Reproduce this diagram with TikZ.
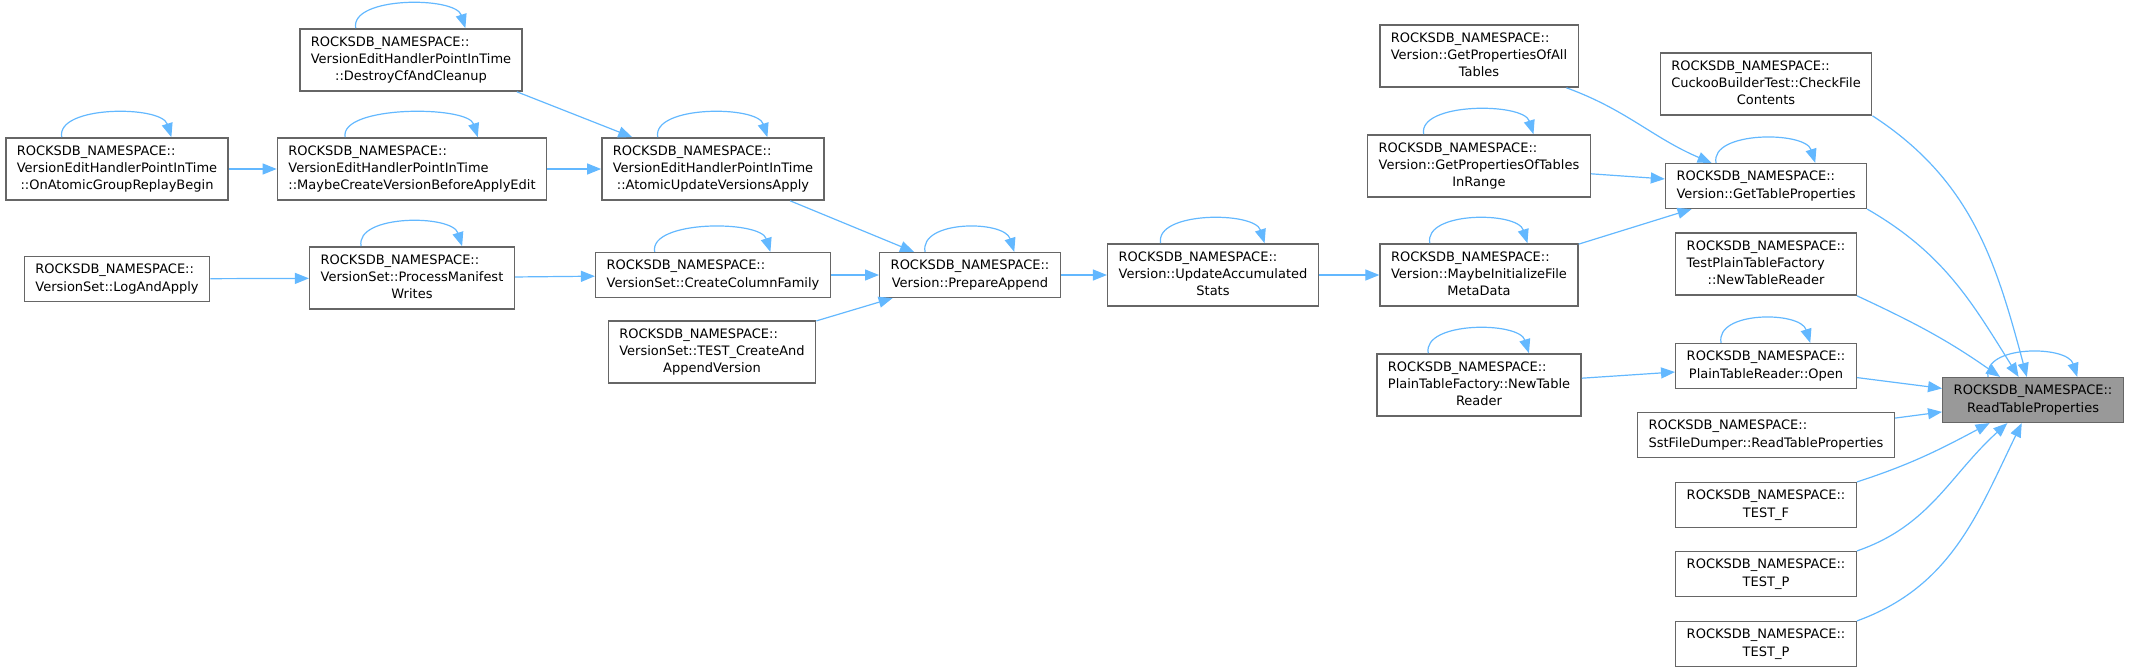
\documentclass[tikz,border=0pt]{standalone}
\usepackage{fontspec}
\setmainfont{DejaVu Sans}
\usetikzlibrary{arrows.meta,calc}
\definecolor{linkblue}{HTML}{63B8FF}
\definecolor{framegray}{HTML}{666666}
\definecolor{focusgray}{HTML}{999999}
\newcommand{\lastc}[1]{\multicolumn{1}{@{}c@{}}{#1}}
\newcommand{\fnlabel}[1]{\begin{tabular}{@{}l@{}}ROCKSDB\_NAMESPACE::\\#1\end{tabular}}

\begin{document}
\begin{tikzpicture}[
  x=0.5pt, y=-0.5pt, font=\fontsize{6.5}{8.7}\selectfont,
  box/.style={draw=framegray,line width=0.7pt,fill=white,inner xsep=5.5pt,inner ysep=2.5pt},
  link/.style={draw=linkblue,line width=0.6pt,-{Triangle[length=7pt,width=5.5pt]}}]
\useasboundingbox (0,0) rectangle (2129,669);
% callers of AtomicUpdateVersionsApply / PrepareAppend
\node[box] (oagr) at (117,169) {\fnlabel{VersionEditHandlerPointInTime\\\lastc{::OnAtomicGroupReplayBegin}}};
\node[box] (mcv) at (412,169) {\fnlabel{VersionEditHandlerPointInTime\\\lastc{::MaybeCreateVersionBeforeApplyEdit}}};
\node[box] (dcc) at (411,60) {\fnlabel{VersionEditHandlerPointInTime\\\lastc{::DestroyCfAndCleanup}}};
\node[box] (auv) at (713,169) {\fnlabel{VersionEditHandlerPointInTime\\\lastc{::AtomicUpdateVersionsApply}}};
\node[box] (laa) at (117,279) {\fnlabel{\lastc{VersionSet::LogAndApply}}};
\node[box] (pmw) at (412,278) {\fnlabel{VersionSet::ProcessManifest\\\lastc{Writes}}};
\node[box] (ccf) at (713,275) {\fnlabel{\lastc{VersionSet::CreateColumnFamily}}};
\node[box] (tca) at (712,352) {\fnlabel{VersionSet::TEST\_CreateAnd\\\lastc{AppendVersion}}};
\node[box] (pa) at (970,275) {\fnlabel{\lastc{Version::PrepareAppend}}};
\node[box] (uas) at (1213,275) {\fnlabel{Version::UpdateAccumulated\\\lastc{Stats}}};
% callers of GetTableProperties / Open
\node[box] (gpa) at (1479,56) {\fnlabel{Version::GetPropertiesOfAll\\\lastc{Tables}}};
\node[box] (gpr) at (1479,166) {\fnlabel{Version::GetPropertiesOfTables\\\lastc{InRange}}};
\node[box] (mif) at (1479,275) {\fnlabel{Version::MaybeInitializeFile\\\lastc{MetaData}}};
\node[box] (ptf) at (1479,385) {\fnlabel{PlainTableFactory::NewTable\\\lastc{Reader}}};
% direct callers
\node[box] (cft) at (1766,84) {\fnlabel{CuckooBuilderTest::CheckFile\\\lastc{Contents}}};
\node[box] (gtp) at (1766,186) {\fnlabel{\lastc{Version::GetTableProperties}}};
\node[box] (tpf) at (1766,264) {\fnlabel{TestPlainTableFactory\\\lastc{::NewTableReader}}};
\node[box] (pto) at (1766,366) {\fnlabel{\lastc{PlainTableReader::Open}}};
\node[box] (sst) at (1766,435) {\fnlabel{\lastc{SstFileDumper::ReadTableProperties}}};
\node[box] (tf) at (1766,505) {\fnlabel{\lastc{TEST\_F}}};
\node[box] (tp1) at (1766,574) {\fnlabel{\lastc{TEST\_P}}};
\node[box] (tp2) at (1766,644) {\fnlabel{\lastc{TEST\_P}}};
\node[box,fill=focusgray] (rtp) at (2033,400) {\fnlabel{\lastc{ReadTableProperties}}};
% calls
\draw[link] (oagr) -- (mcv); \draw[link] (mcv) -- (auv);
\draw[link] ([xshift=-3pt]dcc.south east) -- (auv); \draw[link] (auv) -- (pa);
\draw[link] (laa) -- (pmw); \draw[link] (pmw) -- (ccf); \draw[link] (ccf) -- (pa);
\draw[link] (tca) -- (pa); \draw[link] (pa) -- (uas); \draw[link] (uas) -- (mif);
\draw[link] (gpa) to[out=-20,in=157] (gtp);
\draw[link] (gpr) -- (gtp); \draw[link] (mif) -- (gtp); \draw[link] (ptf) -- (pto);
\draw[link] (cft.south east) to[out=-33,in=105] (rtp);
\draw[link] (gtp.south east) to[out=-30,in=122] (rtp);
\draw[link] (tpf.south east) to[out=-25,in=145] (rtp);
\draw[link] (pto) -- (rtp); \draw[link] (sst) -- (rtp);
\draw[link] (tf.north east) to[out=18,in=-152] (rtp);
\draw[link] (tp1.north east) to[out=19,in=-138] (rtp);
\draw[link] (tp2.north east) to[out=20,in=-116] (rtp);
% recursive calls
\foreach \n in {oagr,mcv,dcc,auv,pmw,ccf,pa,uas,gpr,mif,ptf,gtp,pto,rtp}
  \draw[link] ($(\n.north west)!0.253!(\n.north east)$) .. controls +(-3pt,16pt) and +(-5pt,16pt) .. ($(\n.north west)!0.743!(\n.north east)$);
\end{tikzpicture}
\end{document}
